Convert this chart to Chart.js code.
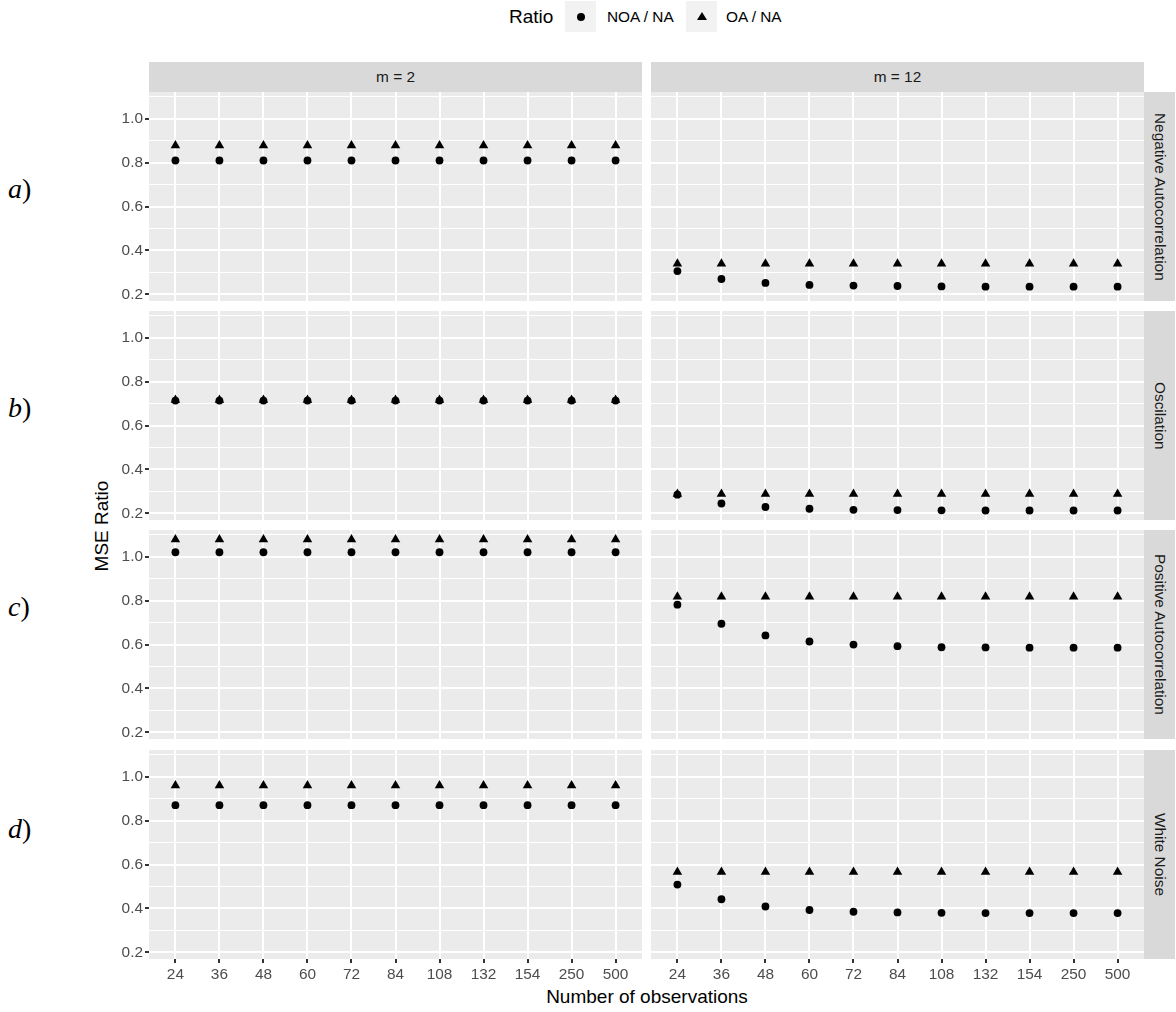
<!DOCTYPE html>
<html>
<head>
<meta charset="utf-8">
<script src="https://cdn.jsdelivr.net/npm/chart.js@4.4.1/dist/chart.umd.min.js"></script>
<style>
  body { margin: 0; background: #fff; font-family: "Liberation Sans", Arial, sans-serif; }
  #fig { position: relative; width: 1176px; height: 1012px; overflow: hidden; }
  .abs { position: absolute; }
  .strip { background: #D9D9D9; color: #1A1A1A; font-size: 15.4px; display: flex; align-items: center; justify-content: center; }
  .strip span.vert { writing-mode: vertical-rl; white-space: nowrap; }
  .key { background: #F2F2F2; width: 31px; height: 31px; top: 1px; }
  .legtxt { top: 1px; height: 31px; line-height: 31px; font-size: 15.4px; color: #000; }
  .rowlab { font-family: "Liberation Serif", "DejaVu Serif", serif; font-size: 28px; color: #000; }
  .rowlab i { font-style: italic; }
  canvas { position: absolute; }
</style>
</head>
<body>
<div id="fig">
  <!-- legend -->
  <div class="abs legtxt" style="left:509px;font-size:19px;">Ratio</div>
  <div class="abs key" style="left:565px;">
    <div class="abs" style="left:11.5px;top:11.5px;width:8px;height:8px;border-radius:50%;background:#000;"></div>
  </div>
  <div class="abs legtxt" id="leg0" style="left:607px;"></div>
  <div class="abs key" style="left:686px;">
    <div class="abs" style="left:10.5px;top:11px;width:0;height:0;border-left:5px solid transparent;border-right:5px solid transparent;border-bottom:8.5px solid #000;"></div>
  </div>
  <div class="abs legtxt" id="leg1" style="left:726px;"></div>

  <div class="abs" id="yTitle" style="left:102px;top:526px;font-size:19px;color:#000;transform:translate(-50%,-50%) rotate(-90deg);white-space:nowrap;">MSE Ratio</div>
  <div class="abs" id="xTitle" style="left:647px;top:997px;font-size:19px;color:#000;transform:translate(-50%,-50%);white-space:nowrap;">Number of observations</div>
</div>

<script>
const observations = ["24", "36", "48", "60", "72", "84", "108", "132", "154", "250", "500"];
const seriesLabels = ["NOA / NA", "OA / NA"];
const facetCols = ["m = 2", "m = 12"];
const facetRows = ["Negative Autocorrelation", "Oscilation", "Positive Autocorrelation", "White Noise"];
const rowTags = ["a", "b", "c", "d"];
const yTickValues = [0.2, 0.3, 0.4, 0.5, 0.6, 0.7, 0.8, 0.9, 1.0, 1.1];
const yMajorTicks = [0.2, 0.4, 0.6, 0.8, 1.0];

// a) Negative Autocorrelation
const negM2Noa  = [0.81, 0.81, 0.81, 0.81, 0.81, 0.81, 0.81, 0.81, 0.81, 0.81, 0.81];
const negM2Oa   = [0.879, 0.879, 0.879, 0.879, 0.879, 0.879, 0.879, 0.879, 0.879, 0.879, 0.879];
const negM12Noa = [0.306, 0.270, 0.252, 0.243, 0.240, 0.238, 0.236, 0.235, 0.235, 0.235, 0.235];
const negM12Oa  = [0.339, 0.339, 0.339, 0.339, 0.339, 0.339, 0.339, 0.339, 0.339, 0.339, 0.339];
// b) Oscilation
const oscM2Noa  = [0.714, 0.714, 0.714, 0.714, 0.714, 0.714, 0.714, 0.714, 0.714, 0.714, 0.714];
const oscM2Oa   = [0.717, 0.717, 0.717, 0.717, 0.717, 0.717, 0.717, 0.717, 0.717, 0.717, 0.717];
const oscM12Noa = [0.285, 0.245, 0.229, 0.221, 0.216, 0.215, 0.214, 0.213, 0.213, 0.213, 0.213];
const oscM12Oa  = [0.288, 0.288, 0.288, 0.288, 0.288, 0.288, 0.288, 0.288, 0.288, 0.288, 0.288];
// c) Positive Autocorrelation
const posM2Noa  = [1.021, 1.021, 1.021, 1.021, 1.021, 1.021, 1.021, 1.021, 1.021, 1.021, 1.021];
const posM2Oa   = [1.079, 1.079, 1.079, 1.079, 1.079, 1.079, 1.079, 1.079, 1.079, 1.079, 1.079];
const posM12Noa = [0.782, 0.695, 0.642, 0.614, 0.600, 0.593, 0.588, 0.587, 0.586, 0.586, 0.586];
const posM12Oa  = [0.818, 0.818, 0.818, 0.818, 0.818, 0.818, 0.818, 0.818, 0.818, 0.818, 0.818];
// d) White Noise
const wnM2Noa  = [0.871, 0.871, 0.871, 0.871, 0.871, 0.871, 0.871, 0.871, 0.871, 0.871, 0.871];
const wnM2Oa   = [0.961, 0.961, 0.961, 0.961, 0.961, 0.961, 0.961, 0.961, 0.961, 0.961, 0.961];
const wnM12Noa = [0.509, 0.442, 0.409, 0.393, 0.385, 0.382, 0.380, 0.379, 0.379, 0.379, 0.379];
const wnM12Oa  = [0.566, 0.566, 0.566, 0.566, 0.566, 0.566, 0.566, 0.566, 0.566, 0.566, 0.566];

const panels = [
  [[negM2Noa, negM2Oa], [negM12Noa, negM12Oa]],
  [[oscM2Noa, oscM2Oa], [oscM12Noa, oscM12Oa]],
  [[posM2Noa, posM2Oa], [posM12Noa, posM12Oa]],
  [[wnM2Noa, wnM2Oa], [wnM12Noa, wnM12Oa]]
];

// layout (pixels)
const COL_X = [149, 651];
const PANEL_W = 493;
const ROW_Y = [92, 311, 530, 750];
const PANEL_H = 209;
const Y_AXIS_W = 60;
const X_AXIS_H = 30;
const Y_MIN = 0.1697, Y_MAX = 1.1223;
const X_MIN = -0.6, X_MAX = observations.length - 1 + 0.6;

const FONT = '"Liberation Sans", Arial, sans-serif';
const fig = document.getElementById("fig");

document.getElementById("leg0").textContent = seriesLabels[0];
document.getElementById("leg1").textContent = seriesLabels[1];

function isMajor(v){
    return yMajorTicks.some(m => Math.abs(m - v) < 1e-9);
}

// grey panel background
const panelBg = {
    id: "panelBg",
    beforeDraw(chart){
        const {ctx, chartArea: a} = chart;
        ctx.save();
        ctx.fillStyle = "#EBEBEB";
        ctx.fillRect(a.left, a.top, a.right - a.left, a.bottom - a.top);
        ctx.restore();
    }
};

function makePanel(row, col){
    const showY = col === 0;
    const showX = row === facetRows.length - 1;
    const [noa, oa] = panels[row][col];

    const canvas = document.createElement("canvas");
    const left = COL_X[col] - (showY ? Y_AXIS_W : 0);
    const w = PANEL_W + (showY ? Y_AXIS_W : 0);
    const h = PANEL_H + (showX ? X_AXIS_H : 0);
    canvas.width = w;
    canvas.height = h;
    canvas.style.left = left + "px";
    canvas.style.top = ROW_Y[row] + "px";
    canvas.style.width = w + "px";
    canvas.style.height = h + "px";
    fig.appendChild(canvas);

    new Chart(canvas, {
        type: "scatter",
        data: {
            datasets: [
                {
                    label: seriesLabels[0],
                    data: noa.map((v, i) => ({x: i, y: v})),
                    pointStyle: "circle",
                    pointRadius: 3.9,
                    backgroundColor: "#000",
                    borderWidth: 0,
                    order: 1
                },
                {
                    label: seriesLabels[1],
                    data: oa.map((v, i) => ({x: i, y: v})),
                    pointStyle: "triangle",
                    pointRadius: 5.5,
                    backgroundColor: "#000",
                    borderWidth: 0,
                    order: 0
                }
            ]
        },
        options: {
            responsive: false,
            animation: false,
            events: [],
            layout: {padding: 0, autoPadding: false},
            plugins: {legend: {display: false}, tooltip: {enabled: false}, title: {display: false}},
            scales: {
                x: {
                    type: "linear",
                    min: X_MIN,
                    max: X_MAX,
                    afterBuildTicks: s => { s.ticks = observations.map((_, i) => ({value: i})); },
                    afterFit: s => {
                        s.height = showX ? X_AXIS_H : 0;
                        s.paddingLeft = 0; s.paddingRight = 0; s.paddingTop = 0; s.paddingBottom = 0;
                    },
                    border: {display: false},
                    grid: {
                        color: "#FFFFFF",
                        lineWidth: 2,
                        drawTicks: showX,
                        tickLength: 4,
                        tickWidth: 2,
                        tickColor: "#333333"
                    },
                    ticks: {
                        display: showX,
                        autoSkip: false,
                        maxRotation: 0,
                        padding: 3,
                        color: "#4D4D4D",
                        font: {family: FONT, size: 15.4},
                        callback: v => observations[v]
                    }
                },
                y: {
                    type: "linear",
                    min: Y_MIN,
                    max: Y_MAX,
                    afterBuildTicks: s => { s.ticks = yTickValues.map(v => ({value: v})); },
                    afterFit: s => {
                        s.width = showY ? Y_AXIS_W : 0;
                        s.paddingLeft = 0; s.paddingRight = 0; s.paddingTop = 0; s.paddingBottom = 0;
                    },
                    border: {display: false},
                    grid: {
                        color: "#FFFFFF",
                        lineWidth: c => isMajor(c.tick.value) ? 2 : 1,
                        drawTicks: showY,
                        tickLength: 4,
                        tickWidth: 2,
                        tickColor: c => isMajor(c.tick.value) ? "#333333" : "rgba(0,0,0,0)"
                    },
                    ticks: {
                        display: showY,
                        autoSkip: false,
                        padding: 2,
                        color: "#4D4D4D",
                        font: {family: FONT, size: 15.4},
                        callback: v => isMajor(v) ? v.toFixed(1) : ""
                    }
                }
            }
        },
        plugins: [panelBg]
    });
}

// strips on top
facetCols.forEach((name, col) => {
    const d = document.createElement("div");
    d.className = "abs strip";
    d.style.left = COL_X[col] + "px";
    d.style.top = "62px";
    d.style.width = PANEL_W + "px";
    d.style.height = (ROW_Y[0] - 62) + "px";
    d.textContent = name;
    fig.appendChild(d);
});

// strips on the right + row tags
facetRows.forEach((name, row) => {
    const d = document.createElement("div");
    d.className = "abs strip";
    d.style.left = (COL_X[1] + PANEL_W) + "px";
    d.style.top = ROW_Y[row] + "px";
    d.style.width = "31px";
    d.style.height = PANEL_H + "px";
    const s = document.createElement("span");
    s.className = "vert";
    s.textContent = name;
    d.appendChild(s);
    fig.appendChild(d);
});

const tagY = [189, 408, 607, 829];
rowTags.forEach((t, row) => {
    const d = document.createElement("div");
    d.className = "abs rowlab";
    d.style.left = "8px";
    d.style.top = tagY[row] + "px";
    d.style.transform = "translateY(-50%)";
    d.innerHTML = "<i>" + t + "</i>)";
    fig.appendChild(d);
});

for(let r = 0; r < facetRows.length; r++){
    for(let c = 0; c < facetCols.length; c++){
        makePanel(r, c);
    }
}
</script>
</body>
</html>
